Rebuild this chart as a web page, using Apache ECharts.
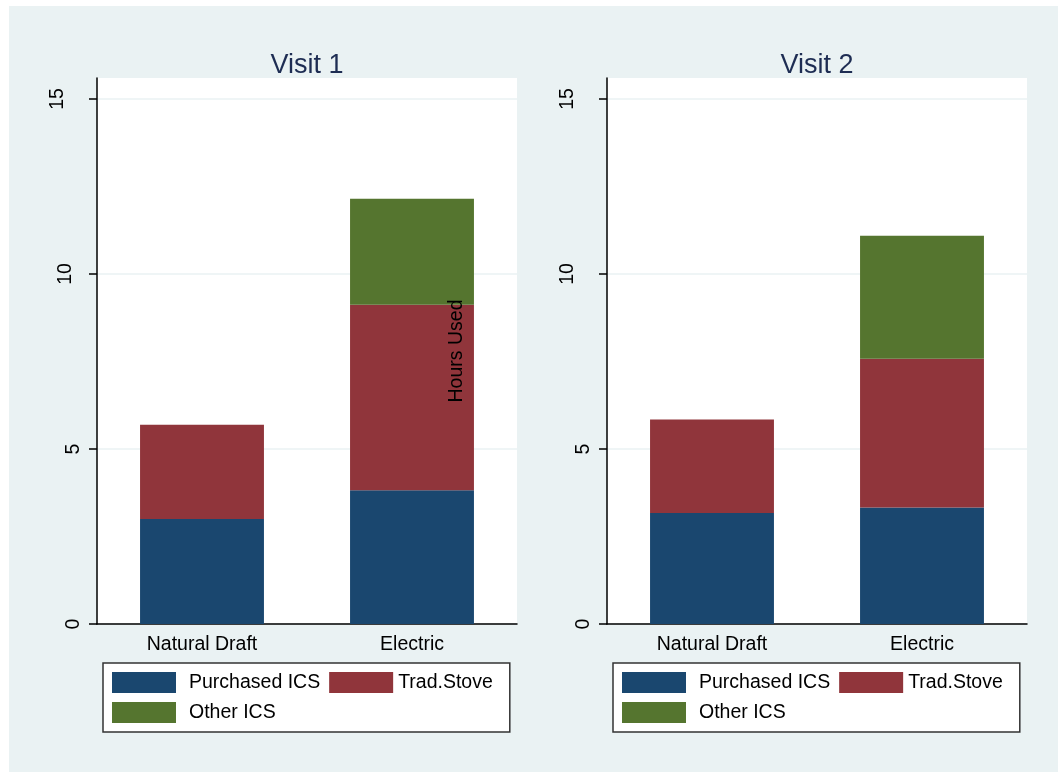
<!DOCTYPE html>
<html>
<head>
<meta charset="utf-8">
<script src="https://cdn.jsdelivr.net/npm/echarts@6/dist/echarts.min.js"></script>
<style>
  html, body { margin: 0; padding: 0; background: #ffffff; }
  #chart { width: 1058px; height: 772px; }
</style>
</head>
<body>
<div id="chart"></div>
<script>
// Mean hours of stove use by stove type, per visit
const categories = ['Natural Draft', 'Electric'];
const panelTitles = ['Visit 1', 'Visit 2'];
const seriesNames = ['Purchased ICS', 'Trad.Stove', 'Other ICS'];

const visit1Purchased = [3.00, 3.82];
const visit1Trad = [2.69, 5.30];
const visit1Other = [0, 3.03];

const visit2Purchased = [3.17, 3.33];
const visit2Trad = [2.67, 4.25];
const visit2Other = [0, 3.51];

const yTicks = [0, 5, 10, 15];
const yAxisTitle = 'Hours Used';

const colors = ['#1a476f', '#90353b', '#55752f'];
const FONT = 'Liberation Sans, Arial, Helvetica, sans-serif';
const FS = 19.5;

const panelData = [
  [visit1Purchased, visit1Trad, visit1Other],
  [visit2Purchased, visit2Trad, visit2Other]
];

const gridLefts = [97, 607];
const plotW = 420;
const plotTop = 78;
const plotH = 546;

// extra offset of each rotated tick label away from its axis, per panel
const labelShift = [
  { 0: 0, 5: 0, 10: 8, 15: 16 },
  { 0: 0, 5: 0, 10: 16, 15: 16 }
];

const grids = gridLefts.map(l => ({
  left: l, top: plotTop, width: plotW, height: plotH,
  show: true, backgroundColor: '#ffffff', borderWidth: 0
}));

const xAxes = gridLefts.map((l, i) => ({
  type: 'category', gridIndex: i, data: categories,
  axisLine: { show: true, lineStyle: { color: '#000', width: 1.5 } },
  axisTick: { show: false },
  axisLabel: { color: '#000', fontFamily: FONT, fontSize: FS, margin: 11 },
  splitLine: { show: false }
}));

const yAxes = gridLefts.map((l, i) => {
  const rich = {};
  yTicks.forEach(t => {
    rich['t' + t] = { fontFamily: FONT, fontSize: FS, color: '#000', padding: [0, 0, labelShift[i][t], 0] };
  });
  return {
    type: 'value', gridIndex: i, min: 0, max: 15.6, interval: 5,
    axisLine: { show: true, lineStyle: { color: '#000', width: 1.5 } },
    axisTick: { show: true, length: 8, customValues: yTicks, lineStyle: { color: '#000', width: 1.5 } },
    axisLabel: {
      customValues: yTicks, rotate: 90, margin: 13, color: '#000',
      fontFamily: FONT, fontSize: FS,
      formatter: v => '{t' + v + '|' + v + '}',
      rich: rich
    },
    splitLine: { show: true, lineStyle: { color: '#eaf2f3', width: 1.5 } }
  };
});

const series = [];
panelData.forEach((sets, p) => {
  sets.forEach((vals, k) => {
    series.push({
      type: 'bar', name: seriesNames[k], stack: 'visit' + (p + 1),
      xAxisIndex: p, yAxisIndex: p, data: vals, barWidth: '59%',
      itemStyle: { color: colors[k] },
      emphasis: { disabled: true }
    });
  });
});

const legendLefts = [103, 613];
const legends = legendLefts.map(l => ({
  left: l, top: 663, width: 385,
  orient: 'horizontal',
  padding: [9, 17, 9, 9],
  itemGap: 9, itemWidth: 64, itemHeight: 21,
  icon: 'rect',
  backgroundColor: '#ffffff', borderColor: '#333333', borderWidth: 1.5,
  textStyle: { color: '#000', fontFamily: FONT, fontSize: FS },
  data: [
    { name: seriesNames[0], textStyle: { padding: [0, 0, 0, 8] } },
    { name: seriesNames[1] },
    { name: seriesNames[2], textStyle: { padding: [0, 0, 0, 8] } }
  ]
}));

const titles = gridLefts.map((l, i) => ({
  text: panelTitles[i], left: l + plotW / 2 - 5, top: 47, textAlign: 'center',
  textStyle: { color: '#1e2d53', fontFamily: FONT, fontSize: 27, fontWeight: 'normal' }
}));

const chart = echarts.init(document.getElementById('chart'), null, { renderer: 'canvas' });
chart.setOption({
  backgroundColor: '#eaf2f3',
  animation: false,
  color: colors,
  title: titles,
  legend: legends,
  grid: grids,
  xAxis: xAxes,
  yAxis: yAxes,
  series: series,
  graphic: [
    { type: 'rect', left: 0, top: 0, shape: { width: 9, height: 772 }, style: { fill: '#ffffff' }, silent: true },
    { type: 'rect', left: 0, top: 0, shape: { width: 1058, height: 6 }, style: { fill: '#ffffff' }, silent: true },
    {
      type: 'text', x: 457, y: 351, rotation: Math.PI / 2, z: 100, silent: true,
      style: { text: yAxisTitle, fill: '#000', font: FS + 'px ' + FONT, align: 'center', verticalAlign: 'middle' }
    }
  ]
});
</script>
</body>
</html>
